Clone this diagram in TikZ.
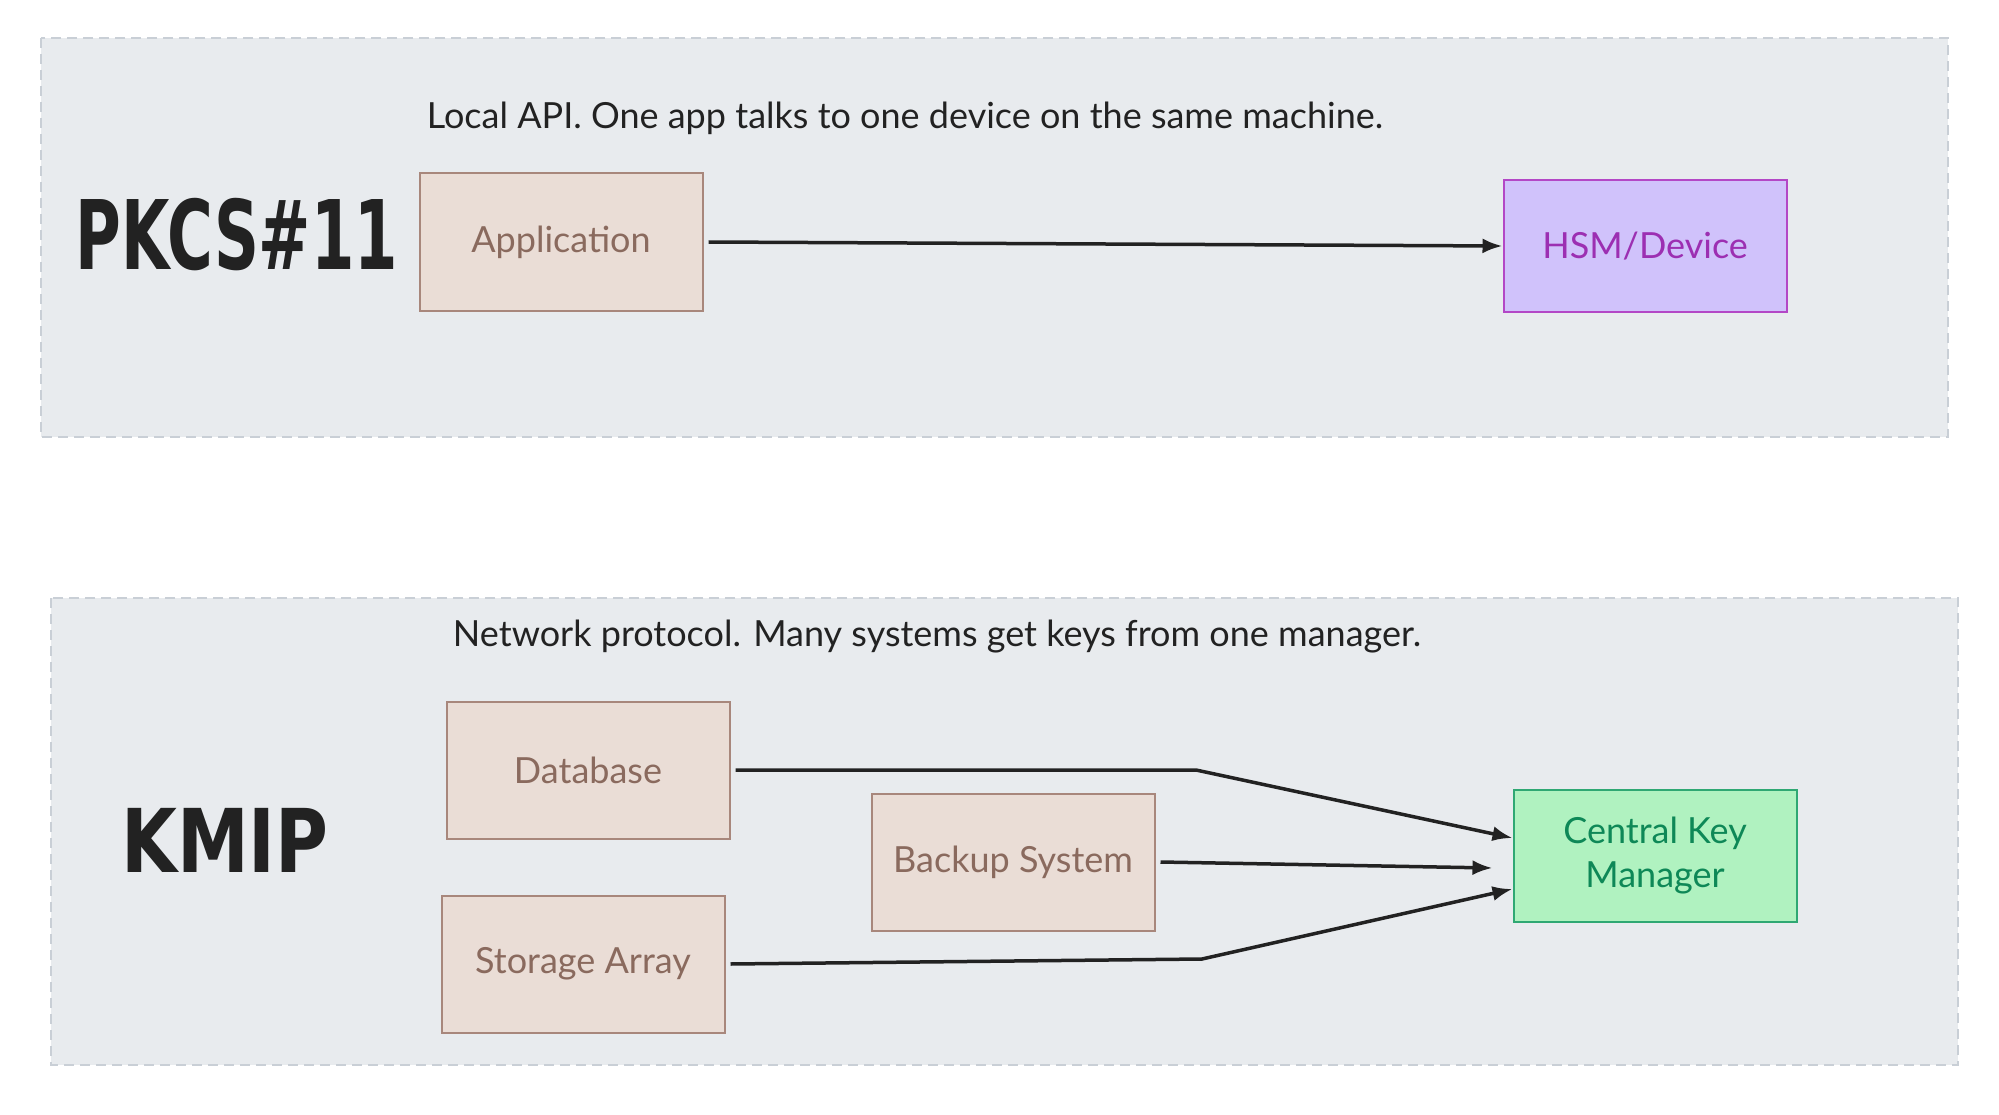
\documentclass[tikz,border=0pt]{standalone}
\usepackage{fontspec}
\setmainfont{Lato}
\newfontfamily\tagfont{DejaVu Sans}[FakeStretch=0.65]
\newfontfamily\tagwidefont{DejaVu Sans}[FakeStretch=0.82]
\usetikzlibrary{positioning, arrows.meta, calc}
\usepackage{xcolor}
\definecolor{panelbg}{HTML}{E8EBEE}
\definecolor{panelline}{HTML}{C9CFD6}
\definecolor{sysfill}{HTML}{EADDD6}
\definecolor{sysline}{HTML}{A8877C}
\definecolor{systext}{HTML}{8A6A5E}
\definecolor{hsmfill}{HTML}{D0C2FB}
\definecolor{hsmline}{HTML}{B347C6}
\definecolor{hsmtext}{HTML}{9C2FB2}
\definecolor{kmfill}{HTML}{B0F2C0}
\definecolor{kmline}{HTML}{2FA873}
\definecolor{kmtext}{HTML}{0E8857}
\definecolor{inkdark}{HTML}{222222}

\begin{document}
\begin{tikzpicture}[x=1pt, y=-1pt, font=\fontsize{36}{44}\selectfont,
    panel/.style={draw=panelline, fill=panelbg, line width=2pt, dash pattern=on 10pt off 6pt},
    sysbox/.style={draw=sysline, fill=sysfill, text=systext, line width=2pt,
                   minimum width=283, minimum height=137, align=center},
    flow/.style={draw=inkdark, line width=3.5pt, -{Latex[length=20pt,width=15pt]}},
    bigtag/.style={text=inkdark, font=\tagfont\bfseries\fontsize{96}{96}\selectfont}]
    \useasboundingbox[fill=white] (0,0) rectangle (1999,1115);

    % PKCS#11 panel
    \draw[panel] (41,38) rectangle (1948,437);
    \node[text=inkdark] (cap1) at (905,118) {Local API. One app talks to one device on the same machine.};
    \node[bigtag] (pkcs) at (237,235) {PKCS\#11};
    \node[sysbox] (app) at (561,242) {Application};
    \node[sysbox, draw=hsmline, fill=hsmfill, text=hsmtext, minimum height=132] (hsm) at (1645,246) {HSM/Device};
    \draw[flow] (app.east) ++(5,0) -- (hsm.west);

    % KMIP panel
    \draw[panel] (51,598) rectangle (1958,1065);
    \node[text=inkdark] (cap2) at (937,637) {Network protocol. Many systems get keys from one manager.};
    \node[bigtag, font=\tagwidefont\bfseries\fontsize{88}{88}\selectfont] (kmip) at (225,840) {KMIP};
    \node[sysbox] (db) at (588,770) {Database};
    \node[sysbox] (store) at (583,964) {Storage Array};
    \node[sysbox] (backup) at (1013,862) {Backup System};
    \node[sysbox, draw=kmline, fill=kmfill, text=kmtext, minimum height=132, inner sep=10pt] (ckm) at (1655,856)
          {Central Key\\Manager};
    \coordinate (dbbend) at (1196,770);
    \coordinate (stbend) at (1202,959);
    \draw[flow] ([xshift=5pt]db.east) -- (dbbend) -- ([yshift=18pt]ckm.west);
    \draw[flow] ([xshift=5pt]backup.east) -- ([xshift=-20pt,yshift=-12pt]ckm.west);
    \draw[flow] ([xshift=5pt]store.east) -- (stbend) -- ([yshift=-33pt]ckm.west);
\end{tikzpicture}
\end{document}
